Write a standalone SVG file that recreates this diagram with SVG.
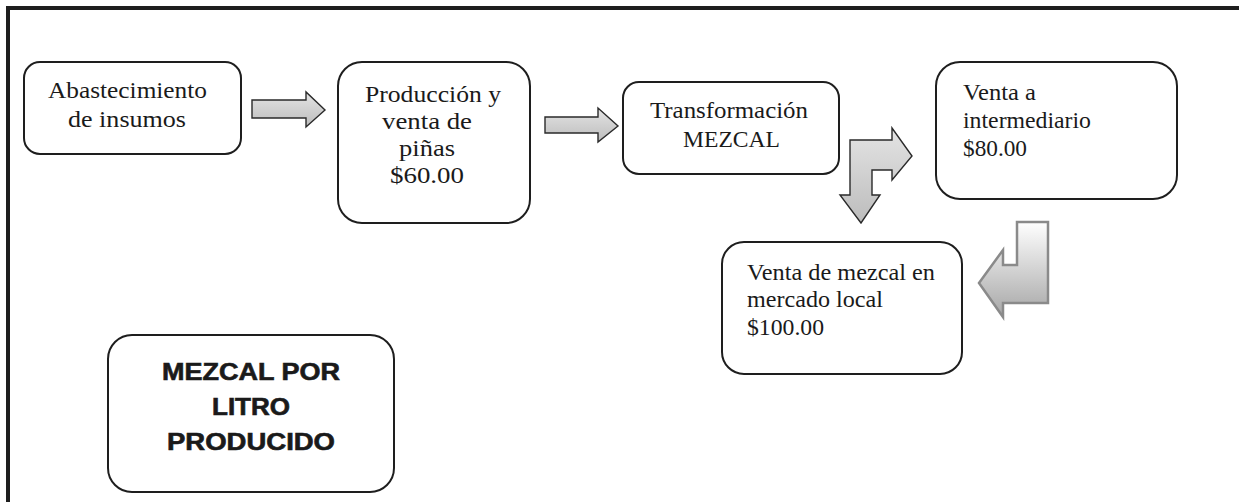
<svg xmlns="http://www.w3.org/2000/svg" width="1239" height="502" viewBox="0 0 1239 502">
  <defs>
    <linearGradient id="gArrow" x1="0" y1="0" x2="0" y2="1">
      <stop offset="0" stop-color="#e4e4e4"/>
      <stop offset="1" stop-color="#bcbcbc"/>
    </linearGradient>
    <linearGradient id="gArrow4" x1="0" y1="0" x2="0" y2="1">
      <stop offset="0" stop-color="#ffffff"/>
      <stop offset="1" stop-color="#a6a6a6"/>
    </linearGradient>
    <style>
      .box { fill: #ffffff; stroke: #1e1e1e; stroke-width: 2; }
      .t { font-family: "Liberation Serif", "Times New Roman", serif; font-size: 23px; fill: #1a1a1a; }
      .c { text-anchor: middle; }
      .b { font-family: "Liberation Sans", Arial, sans-serif; font-size: 23px; font-weight: bold; fill: #1a1a1a; stroke: #1a1a1a; stroke-width: 0.6; }
      .arr { fill: url(#gArrow); stroke: #2a2a2a; stroke-width: 1.4; stroke-linejoin: miter; }
      .arr4 { fill: url(#gArrow4); stroke: #8a8a8a; stroke-width: 2.5; stroke-linejoin: miter; }
    </style>
  </defs>
  <rect width="1239" height="502" fill="#ffffff"/>
  <g id="frame" fill="#1e1e1e">
    <rect x="6" y="6" width="1233" height="4"/>
    <rect x="6" y="6" width="4" height="496"/>
  </g>

  <g id="connectors">
    <path class="arr" d="M252,100 L306,100 L306,92 L325,110 L306,127 L306,118 L252,118 Z"/>
    <path class="arr" d="M545,117 L598,117 L598,108 L618,126 L598,142 L598,133 L545,133 Z"/>
    <path class="arr" d="M850,195 L850,140 L892,140 L892,128 L912,156 L892,180 L892,170 L872,170 L872,195 L880,195 L861,223 L840,195 Z"/>
    <path class="arr4" d="M1048,222 L1048,303 L1003,303 L1003,317 L979,283 L1003,250 L1003,265 L1017,265 L1017,222 Z"/>
  </g>

  <g id="n-abastecimiento">
    <rect class="box" x="24" y="62" width="217" height="92" rx="16"/>
    <text class="t" x="48" y="98" textLength="159" lengthAdjust="spacingAndGlyphs">Abastecimiento</text>
    <text class="t" x="68" y="127" textLength="118" lengthAdjust="spacingAndGlyphs">de insumos</text>
  </g>

  <g id="n-produccion">
    <rect class="box" x="338" y="62" width="192" height="161" rx="24"/>
    <text class="t c" x="433" y="102" textLength="136" lengthAdjust="spacingAndGlyphs">Producción  y</text>
    <text class="t c" x="427" y="129" textLength="90" lengthAdjust="spacingAndGlyphs">venta de</text>
    <text class="t c" x="427" y="156" textLength="56" lengthAdjust="spacingAndGlyphs">piñas</text>
    <text class="t c" x="427" y="183" textLength="74" lengthAdjust="spacingAndGlyphs">$60.00</text>
  </g>

  <g id="n-transformacion">
    <rect class="box" x="623" y="82" width="216" height="92" rx="16"/>
    <text class="t" x="650" y="118" textLength="158" lengthAdjust="spacingAndGlyphs">Transformación</text>
    <text class="t" x="683" y="147" textLength="97" lengthAdjust="spacingAndGlyphs">MEZCAL</text>
  </g>

  <g id="n-intermediario">
    <rect class="box" x="936" y="62" width="241" height="137" rx="24"/>
    <text class="t" x="963" y="100" textLength="73" lengthAdjust="spacingAndGlyphs">Venta a</text>
    <text class="t" x="963" y="128" textLength="128" lengthAdjust="spacingAndGlyphs">intermediario</text>
    <text class="t" x="963" y="156" textLength="64" lengthAdjust="spacingAndGlyphs">$80.00</text>
  </g>

  <g id="n-mercado-local">
    <rect class="box" x="722" y="242" width="240" height="132" rx="22"/>
    <text class="t" x="747" y="280" textLength="188" lengthAdjust="spacingAndGlyphs">Venta de mezcal en</text>
    <text class="t" x="747" y="307" textLength="136" lengthAdjust="spacingAndGlyphs">mercado local</text>
    <text class="t" x="747" y="335" textLength="77" lengthAdjust="spacingAndGlyphs">$100.00</text>
  </g>

  <g id="n-titulo">
    <rect class="box" x="108" y="335" width="286" height="157" rx="24"/>
    <text class="b" x="162" y="380" textLength="178" lengthAdjust="spacingAndGlyphs">MEZCAL POR</text>
    <text class="b" x="212" y="415" textLength="78" lengthAdjust="spacingAndGlyphs">LITRO</text>
    <text class="b" x="167" y="450" textLength="168" lengthAdjust="spacingAndGlyphs">PRODUCIDO</text>
  </g>
</svg>
